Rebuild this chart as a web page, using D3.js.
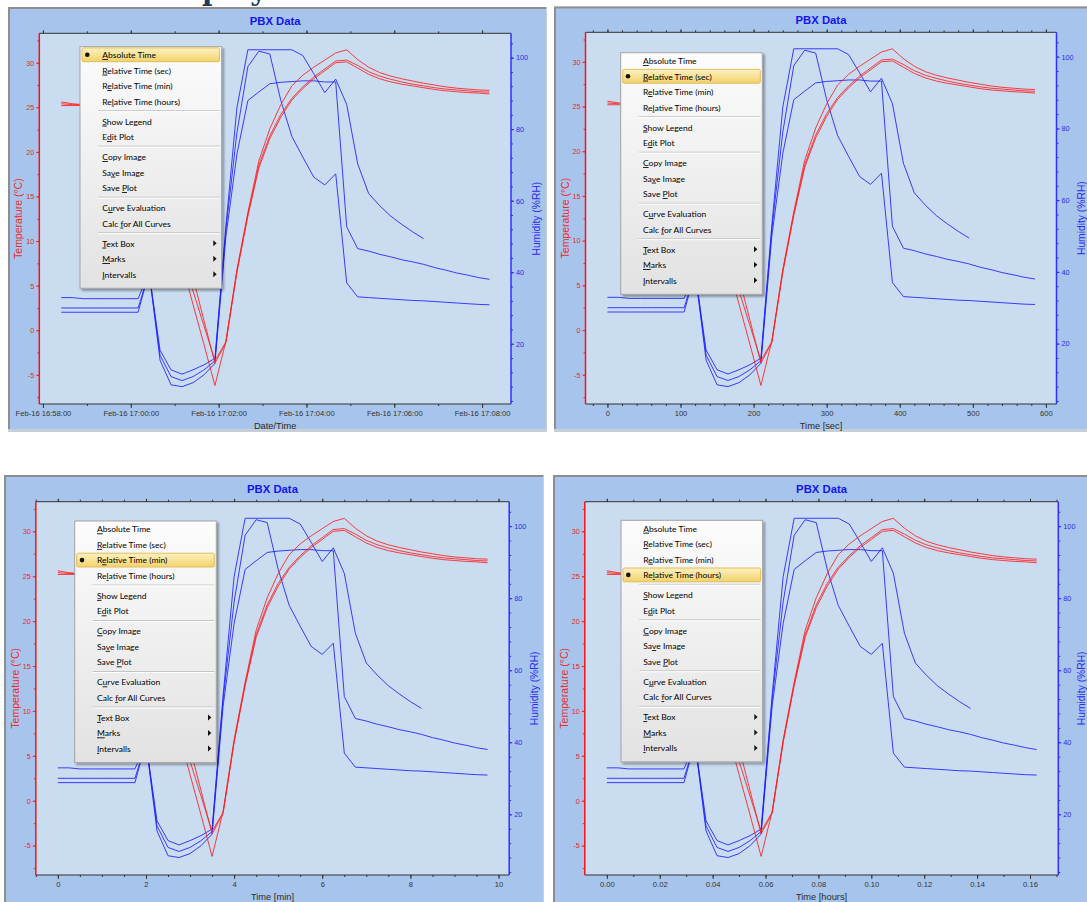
<!DOCTYPE html>
<html><head><meta charset="utf-8">
<script src="https://cdn.jsdelivr.net/npm/d3@7"></script>
<style>body{margin:0;background:#fff;overflow:hidden}svg{display:block}</style>
</head><body>
<svg id="c" width="1087" height="902"></svg>
<script>
// ---------------- DATA ----------------
const startTime = '2021-02-16T16:58:25';
const timeSec = [0,15,30,45,60,75,90,105,120,135,150,165,180,195,210,225,240,255,270,285,300,315,330,345,360,375,390,405,420,435,450,465,480,495,510,525,540,555,570,585];
const tempA = [25.6,25.4,25.3,25.3,25.3,25.2,25.2,24.8,22.0,17.5,12.5,7.5,2.9,-1.6,-6.2,-1.2,6.8,13.2,19.0,22.6,25.3,27.4,28.6,29.5,30.3,31.1,31.45,30.35,29.5,28.9,28.5,28.2,27.95,27.7,27.5,27.3,27.15,27.05,26.95,26.9];
const tempB = [25.4,25.3,25.3,25.3,25.3,25.3,25.2,24.9,22.5,18.5,14.0,9.0,4.4,0.5,-3.4,-1.3,6.6,13.0,18.5,21.8,24.2,26.0,27.3,28.4,29.3,30.2,30.3,29.7,29.0,28.5,28.15,27.85,27.6,27.4,27.2,27.05,26.95,26.85,26.75,26.7];
const tempC = [25.2,25.2,25.2,25.2,25.2,25.2,25.2,25.0,23.0,19.0,14.5,10.0,5.9,1.1,-3.7,-1.4,6.5,12.8,18.2,21.5,23.9,25.8,27.1,28.2,29.1,30.0,30.1,29.4,28.7,28.2,27.85,27.6,27.4,27.2,27.0,26.85,26.75,26.65,26.6,26.5];
const humA = [32.9,32.9,32.6,32.6,32.6,32.6,32.6,32.6,40.0,18.2,12.7,11.5,12.7,14.1,15.9,53.0,86.0,102.2,102.2,102.2,102.2,102.2,100.6,95.5,90.2,94.0,86.9,70.3,62.0,58.6,55.7,53.4,51.3,49.4,null,null,null,null,null,null];
const humB = [30.0,30.0,30.0,30.0,30.0,30.0,30.0,30.0,40.0,16.8,10.8,9.7,10.8,12.7,15.2,52.0,79.0,97.5,101.8,101.0,88.0,78.0,72.2,66.6,64.4,67.5,37.0,33.1,32.9,32.7,32.5,32.3,32.1,32.0,31.8,31.6,31.4,31.2,31.0,30.9];
const humC = [28.8,28.8,28.8,28.8,28.8,28.8,28.8,28.8,40.0,15.4,8.5,8.0,9.1,11.3,14.5,50.0,73.0,88.0,90.4,92.7,93.1,93.3,93.5,93.5,93.2,93.2,52.7,46.6,45.9,45.0,44.3,43.5,42.9,42.2,41.3,40.6,39.8,39.2,38.5,38.0];

const tempTicks = [-5,0,5,10,15,20,25,30];
const humTicks = [20,40,60,80,100];
const absTicks = ['2021-02-16T16:58:00','2021-02-16T17:00:00','2021-02-16T17:02:00','2021-02-16T17:04:00','2021-02-16T17:06:00','2021-02-16T17:08:00'];
const secTicks = [0,100,200,300,400,500,600];
const minTicks = [0,2,4,6,8,10];
const hourTicks = [0,0.02,0.04,0.06,0.08,0.10,0.12,0.14,0.16];

const menuItems = ['Absolute Time','Relative Time (sec)','Relative Time (min)','Relative Time (hours)','-','Show Legend','Edit Plot','-','Copy Image','Save Image','Save Plot','-','Curve Evaluation','Calc for All Curves','-','Text Box','Marks','Intervalls'];
const menuKeys  = [0,0,1,2,null,0,1,null,0,2,5,null,1,5,null,0,0,0];
const menuSub   = [false,false,false,false,false,false,false,false,false,false,false,false,false,false,false,true,true,true];

// ---------------- LAYOUT ----------------
const xDomainSec = [-30, 614.5];
const tempDomain = [-8.27, 33.3];
const humDomain = [3.15, 106.8];
const panels = [
  {box:[8,7,539,425],     plot:[39.3,33.3,511,404],    mode:'abs',   xTitle:'Date/Time',    menu:[80,46.7],   sel:0},
  {box:[554,6.5,540,425.5],plot:[585.5,32.3,1056.5,404],mode:'sec',   xTitle:'Time [sec]',   menu:[620.7,52.7],sel:1},
  {box:[4,475,540,440],   plot:[35.8,501.7,509.2,875], mode:'min',   xTitle:'Time [min]',   menu:[74.7,521],  sel:2},
  {box:[553,475,540,440], plot:[584.8,501.7,1058.3,875],mode:'hours', xTitle:'Time [hours]', menu:[621,520.3], sel:3}
];

const svg = d3.select('#c');
const t0 = new Date(startTime).getTime();
const SANS = "'Liberation Sans', Arial, sans-serif";
const MENUFONT = "Lato, 'Noto Sans', sans-serif";

const defs = svg.append('defs');
const mg = defs.append('linearGradient').attr('id','menuGrad').attr('x1',0).attr('y1',0).attr('x2',0).attr('y2',1);
mg.append('stop').attr('offset','0%').attr('stop-color','#fcfcfc');
mg.append('stop').attr('offset','100%').attr('stop-color','#e2e2e2');
const hg = defs.append('linearGradient').attr('id','hiGrad').attr('x1',0).attr('y1',0).attr('x2',0).attr('y2',1);
hg.append('stop').attr('offset','0%').attr('stop-color','#fdf1c0');
hg.append('stop').attr('offset','100%').attr('stop-color','#f2d26a');
const sh = defs.append('filter').attr('id','shadow').attr('x','-10%').attr('y','-10%').attr('width','130%').attr('height','130%');
sh.append('feDropShadow').attr('dx',2).attr('dy',2).attr('stdDeviation',1.2).attr('flood-color','#000').attr('flood-opacity',0.35);

// measure menu font size
const probe = svg.append('text').attr('font-family',MENUFONT).attr('font-size',10).text('Relative Time (hours)');
const menuFontSize = 10 * 77.7 / probe.node().getComputedTextLength();
probe.remove();

// heading fragment at top (cut off in the reference as well)
const head = svg.append('text').attr('font-family',"'DejaVu Serif', serif").attr('font-weight','bold')
  .attr('font-size',28).attr('fill','#1d3a60').attr('y',-0.5).text('Display');
const pStart = head.node().getStartPositionOfChar(3).x;
head.attr('x', 202 - pStart);

function makeX(p){
  const l = p.plot[0], r = p.plot[2];
  if(p.mode==='abs'){
    const s = d3.scaleTime().domain([new Date(t0+xDomainSec[0]*1000), new Date(t0+xDomainSec[1]*1000)]).range([l,r]);
    return {s, v:t=>new Date(t0+t*1000), major:absTicks.map(d=>new Date(d)),
      minor:d3.timeMinute.range(s.domain()[0], s.domain()[1]), fmt:d3.timeFormat('%b-%d %H:%M:%S')};
  }
  const div = p.mode==='sec'?1:(p.mode==='min'?60:3600);
  const s = d3.scaleLinear().domain([xDomainSec[0]/div, xDomainSec[1]/div]).range([l,r]);
  const major = p.mode==='sec'?secTicks:(p.mode==='min'?minTicks:hourTicks);
  const step = p.mode==='sec'?20:(p.mode==='min'?0.5:0.01);
  const minor = d3.range(Math.ceil(s.domain()[0]/step), Math.floor(s.domain()[1]/step)+1).map(k=>+(k*step).toFixed(4));
  const fmt = p.mode==='hours'? (d=>d.toFixed(2)) : (d=>String(d));
  return {s, v:t=>t/div, major, minor, fmt};
}

function styleAxis(sel, color, fs){
  sel.select('.domain').remove();
  sel.attr('font-family',SANS).attr('font-size',fs);
  sel.selectAll('.tick line').attr('stroke',color).attr('stroke-width',1);
  sel.selectAll('.tick text').attr('fill',color);
}

function drawPanel(p){
  const [bx,by,bw,bh] = p.box, [l,t,r,b] = p.plot;
  const g = svg.append('g');
  g.append('rect').attr('x',bx).attr('y',by).attr('width',bw).attr('height',bh).attr('fill','#c6ced8');
  g.append('rect').attr('x',bx).attr('y',by).attr('width',bw-1).attr('height',bh-3).attr('fill','#8e8e8e');
  g.append('rect').attr('x',bx+2).attr('y',by+2).attr('width',bw-3).attr('height',bh-5).attr('fill','#a7c5ec');
  g.append('rect').attr('x',l).attr('y',t).attr('width',r-l).attr('height',b-t).attr('fill','#c9dcf0');

  const X = makeX(p);
  const yT = d3.scaleLinear().domain(tempDomain).range([b,t]);
  const yH = d3.scaleLinear().domain(humDomain).range([b,t]);

  // bottom axis
  const gb = g.append('g').attr('transform',`translate(0,${b})`)
    .call(d3.axisBottom(X.s).tickValues(X.major).tickFormat(X.fmt).tickSize(4).tickPadding(3).tickSizeOuter(0));
  styleAxis(gb,'#333',7.6);
  const gbm = g.append('g').attr('transform',`translate(0,${b})`)
    .call(d3.axisBottom(X.s).tickValues(X.minor).tickFormat('').tickSize(2).tickSizeOuter(0));
  styleAxis(gbm,'#333',7.6);
  // top axis
  const gt = g.append('g').attr('transform',`translate(0,${t})`)
    .call(d3.axisTop(X.s).tickValues(X.major).tickFormat('').tickSize(3).tickSizeOuter(0));
  styleAxis(gt,'#333',7.6);
  const gtm = g.append('g').attr('transform',`translate(0,${t})`)
    .call(d3.axisTop(X.s).tickValues(X.minor).tickFormat('').tickSize(2).tickSizeOuter(0));
  styleAxis(gtm,'#333',7.6);
  // left axis
  const gl = g.append('g').attr('transform',`translate(${l},0)`)
    .call(d3.axisLeft(yT).tickValues(tempTicks).tickFormat(d=>String(d)).tickSize(3).tickPadding(2).tickSizeOuter(0));
  styleAxis(gl,'#e82828',7.3);
  const tempMinor = d3.range(Math.ceil(tempDomain[0]/2.5), Math.floor(tempDomain[1]/2.5)+1).map(k=>k*2.5);
  const glm = g.append('g').attr('transform',`translate(${l},0)`)
    .call(d3.axisLeft(yT).tickValues(tempMinor).tickFormat('').tickSize(2).tickSizeOuter(0));
  styleAxis(glm,'#e82828',7.3);
  // right axis
  const gr = g.append('g').attr('transform',`translate(${r},0)`)
    .call(d3.axisRight(yH).tickValues(humTicks).tickFormat(d=>String(d)).tickSize(3).tickPadding(2).tickSizeOuter(0));
  styleAxis(gr,'#2b2bf0',7.3);
  const humMinor = d3.range(Math.ceil(humDomain[0]/4), Math.floor(humDomain[1]/4)+1).map(k=>k*4);
  const grm = g.append('g').attr('transform',`translate(${r},0)`)
    .call(d3.axisRight(yH).tickValues(humMinor).tickFormat('').tickSize(2).tickSizeOuter(0));
  styleAxis(grm,'#2b2bf0',7.3);

  // frame lines
  g.append('line').attr('x1',l).attr('x2',r).attr('y1',t).attr('y2',t).attr('stroke','#333').attr('stroke-width',1);
  g.append('line').attr('x1',l).attr('x2',r).attr('y1',b).attr('y2',b).attr('stroke','#333').attr('stroke-width',1);
  g.append('line').attr('x1',l).attr('x2',l).attr('y1',t).attr('y2',b).attr('stroke','#ff1010').attr('stroke-width',1.5);
  g.append('line').attr('x1',r).attr('x2',r).attr('y1',t).attr('y2',b).attr('stroke','#3030ff').attr('stroke-width',1.5);

  // titles
  g.append('text').attr('x',(l+r)/2).attr('y',t-8.3).attr('text-anchor','middle')
    .attr('font-family',SANS).attr('font-weight','bold').attr('font-size',11.3).attr('fill','#1414ee').text('PBX Data');
  g.append('text').attr('x',(l+r)/2).attr('y',b+24.5).attr('text-anchor','middle')
    .attr('font-family',SANS).attr('font-size',9.3).attr('fill','#2a2a2a').text(p.xTitle);
  g.append('text').attr('transform',`translate(${l-20.5},${(t+b)/2}) rotate(-90)`).attr('dy','0.35em').attr('text-anchor','middle')
    .attr('font-family',SANS).attr('font-size',10.5).attr('fill','#ee2a2a').text('Temperature (°C)');
  const hx = Math.min(r+25, 1081.5);
  g.append('text').attr('transform',`translate(${hx},${(t+b)/2}) rotate(-90)`).attr('dy','0.35em').attr('text-anchor','middle')
    .attr('font-family',SANS).attr('font-size',10.3).attr('fill','#2b2bf0').text('Humidity (%RH)');

  // curves
  const lineGen = ys => d3.line().defined(d=>d[1]!=null).x(d=>X.s(d[0])).y(d=>ys(d[1]));
  [humA,humB,humC].forEach(ser=>{
    g.append('path').datum(timeSec.map((tt,i)=>[X.v(tt),ser[i]]))
      .attr('d',lineGen(yH)).attr('fill','none').attr('stroke','#1e1eff').attr('stroke-width',1).attr('stroke-opacity',0.85);
  });
  [tempA,tempB,tempC].forEach(ser=>{
    g.append('path').datum(timeSec.map((tt,i)=>[X.v(tt),ser[i]]))
      .attr('d',lineGen(yT)).attr('fill','none').attr('stroke','#ff1e1e').attr('stroke-width',1).attr('stroke-opacity',0.85);
  });

  drawMenu(g, p.menu[0], p.menu[1], p.sel);
}

function drawMenu(g, mx, my, sel){
  const W = 141.6, H = 241.6;
  const m = g.append('g');
  m.append('rect').attr('x',mx).attr('y',my).attr('width',W).attr('height',H)
    .attr('fill','url(#menuGrad)').attr('stroke','#a4a4a4').attr('stroke-width',1).attr('filter','url(#shadow)');
  let y = my + 8.1;
  menuItems.forEach((it,i)=>{
    if(it==='-'){
      const sy = y - 15.5 + 9.4;
      m.append('line').attr('x1',mx+18).attr('x2',mx+W-2).attr('y1',sy).attr('y2',sy).attr('stroke','#c4c4c4').attr('stroke-width',1);
      m.append('line').attr('x1',mx+18).attr('x2',mx+W-2).attr('y1',sy+1).attr('y2',sy+1).attr('stroke','#ffffff').attr('stroke-width',1);
      y += 4.5;
      return;
    }
    if(i===sel){
      m.append('rect').attr('x',mx+2).attr('y',y-6.9).attr('width',W-4).attr('height',13.8).attr('rx',1.5)
        .attr('fill','url(#hiGrad)').attr('stroke','#e0bd5e').attr('stroke-width',1);
      m.append('circle').attr('cx',mx+7.3).attr('cy',y).attr('r',2.3).attr('fill','#111');
    }
    const k = menuKeys[i];
    const tx = m.append('text').attr('x',mx+22.3).attr('y',y+3.3)
      .attr('font-family',MENUFONT).attr('font-size',menuFontSize).attr('fill','#000');
    tx.append('tspan').text(it.slice(0,k));
    tx.append('tspan').style('text-decoration','underline').text(it.slice(k,k+1));
    tx.append('tspan').text(it.slice(k+1));
    if(menuSub[i]){
      m.append('path').attr('d',`M${mx+133.3},${y-3}L${mx+136.6},${y}L${mx+133.3},${y+3}Z`).attr('fill','#111');
    }
    y += 15.5;
  });
}

panels.forEach(drawPanel);
</script>
</body></html>
